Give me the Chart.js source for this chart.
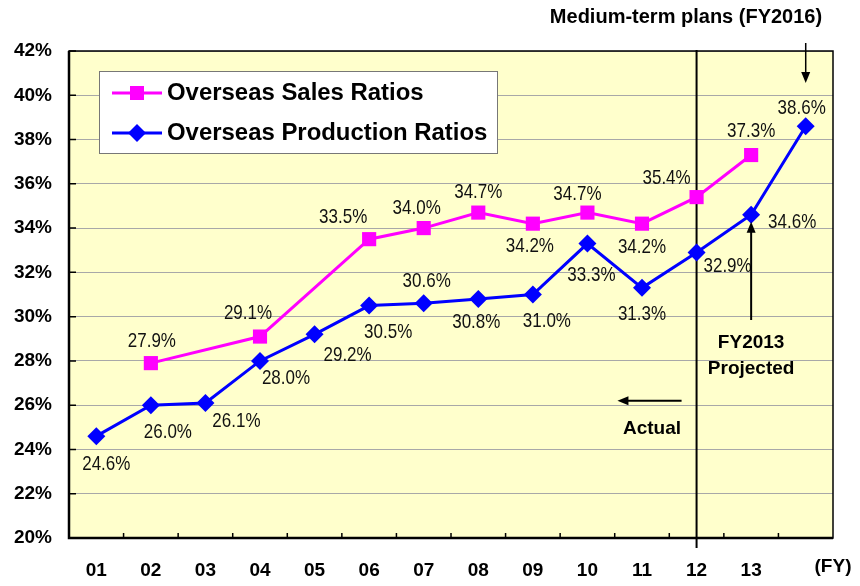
<!DOCTYPE html>
<html>
<head>
<meta charset="utf-8">
<script src="https://cdn.jsdelivr.net/npm/chart.js@4.4.1/dist/chart.umd.min.js"></script>
<style>
  html, body { margin: 0; padding: 0; background: #fff; }
  #wrap { width: 860px; height: 586px; }
</style>
</head>
<body>
<div id="wrap"><canvas id="ratioChart"></canvas></div>
<script>
"use strict";

// data (fiscal years, % of total)
const categories = ['01', '02', '03', '04', '05', '06', '07', '08', '09', '10', '11', '12', '13', ''];
const salesRatios = [null, 27.9, null, 29.1, null, 33.5, 34.0, 34.7, 34.2, 34.7, 34.2, 35.4, 37.3, null];
const productionRatios = [24.6, 26.0, 26.1, 28.0, 29.2, 30.5, 30.6, 30.8, 31.0, 33.3, 31.3, 32.9, 34.6, 38.6];
const yTicks = [20, 22, 24, 26, 28, 30, 32, 34, 36, 38, 40, 42];

// where each value label sits relative to its point (px)
const salesLabelOffsets = [null, [1, -22], null, [-12, -23], null, [-26, -22], [-7, -19], [0, -20], [-3, 23], [-10, -18], [0, 24], [-30, -18], [0, -23], null];
const productionLabelOffsets = [[10, 28], [17, 27], [31, 19], [26, 18], [33, 21], [19, 27], [3, -22], [-2, 24], [14, 27], [4, 32], [0, 27], [31, 14], [41, 8], [-4, -18]];

const FONT = '"Liberation Sans", Arial, sans-serif';
const SALES_COLOR = '#FF00FF';
const PROD_COLOR = '#0000FF';

const ctx = document.getElementById('ratioChart');

function drawArrow(c, x1, y1, x2, y2) {
    const ang = Math.atan2(y2 - y1, x2 - x1);
    const cos = Math.cos(ang), sin = Math.sin(ang);
    c.beginPath();
    c.moveTo(x1, y1);
    c.lineTo(x2 - 8 * cos, y2 - 8 * sin);
    c.stroke();
    c.beginPath();
    c.moveTo(x2, y2);
    c.lineTo(x2 - 11 * cos + 4.5 * sin, y2 - 11 * sin - 4.5 * cos);
    c.lineTo(x2 - 11 * cos - 4.5 * sin, y2 - 11 * sin + 4.5 * cos);
    c.closePath();
    c.fill();
}

function drawMarker(c, style, x, y, color) {
    c.fillStyle = color;
    c.beginPath();
    if (style === 'rect') {
        c.rect(x - 7, y - 7, 14, 14);
    } else {
        c.moveTo(x, y - 9);
        c.lineTo(x + 9, y);
        c.lineTo(x, y + 9);
        c.lineTo(x - 9, y);
        c.closePath();
    }
    c.fill();
}

const plotFrame = {
    id: 'plotFrame',
    beforeDraw(chart) {
        const { ctx: c, chartArea: a } = chart;
        c.save();
        c.fillStyle = '#FFFFCC';
        c.fillRect(a.left, a.top, a.right - a.left, a.bottom - a.top);
        c.restore();
    },
    beforeDatasetsDraw(chart) {
        const { ctx: c, chartArea: a, scales: { x, y } } = chart;
        c.save();
        c.strokeStyle = '#000';
        c.lineWidth = 1.5;
        c.strokeRect(a.left, a.top, a.right - a.left, a.bottom - a.top);
        c.lineWidth = 2.5;
        c.beginPath();
        c.moveTo(a.left, a.top);
        c.lineTo(a.left, a.bottom);
        c.lineTo(a.right, a.bottom);
        c.stroke();

        // small inner tick marks
        c.lineWidth = 1.5;
        c.beginPath();
        y.ticks.forEach(t => {
            const py = y.getPixelForValue(t.value);
            c.moveTo(a.left, py);
            c.lineTo(a.left + 7, py);
        });
        for (let i = 1; i < categories.length; i++) {
            const px = x.getPixelForValue(i - 0.5);
            c.moveTo(px, a.bottom);
            c.lineTo(px, a.bottom - 5);
        }
        c.stroke();

        // divider actual / plan at FY12
        const dx = x.getPixelForValue(11);
        c.lineWidth = 2;
        c.beginPath();
        c.moveTo(dx, a.top - 1);
        c.lineTo(dx, a.bottom + 10);
        c.stroke();
        c.restore();
    },
    afterDatasetsDraw(chart) {
        const { ctx: c, chartArea: a, scales: { x, y } } = chart;
        c.save();

        // value labels
        c.fillStyle = '#111';
        c.font = '17px ' + FONT;
        c.textAlign = 'center';
        c.textBaseline = 'middle';
        const putLabels = (values, offsets) => {
            values.forEach((v, i) => {
                if (v === null || !offsets[i]) return;
                const px = x.getPixelForValue(i) + offsets[i][0];
                const py = y.getPixelForValue(v) + offsets[i][1];
                c.save();
                c.translate(px, py);
                c.scale(1, 1.15);
                c.fillText(v.toFixed(1) + '%', 0, 0);
                c.restore();
            });
        };
        putLabels(salesRatios, salesLabelOffsets);
        putLabels(productionRatios, productionLabelOffsets);

        // legend box inside the plot
        const lx = a.left + 30, ly = a.top + 20;
        c.fillStyle = '#fff';
        c.fillRect(lx, ly, 398, 82);
        c.strokeStyle = '#777';
        c.lineWidth = 1;
        c.strokeRect(lx + 0.5, ly + 0.5, 398, 82);
        chart.data.datasets.forEach((ds, i) => {
            const ry = ly + 22 + i * 40;
            c.strokeStyle = ds.borderColor;
            c.lineWidth = 3;
            c.beginPath();
            c.moveTo(lx + 13, ry);
            c.lineTo(lx + 63, ry);
            c.stroke();
            drawMarker(c, ds.pointStyle, lx + 38, ry, ds.borderColor);
            c.fillStyle = '#000';
            c.font = 'bold 23px ' + FONT;
            c.textAlign = 'left';
            c.save();
            c.translate(lx + 68, ry + 1);
            c.scale(1.04, 1);
            c.fillText(ds.label, 0, 0);
            c.restore();
        });

        // annotations
        c.fillStyle = '#000';
        c.strokeStyle = '#000';
        c.lineWidth = 2;
        c.textAlign = 'center';

        const x16 = x.getPixelForValue(13);
        c.font = 'bold 20px ' + FONT;
        c.fillText('Medium-term plans (FY2016)', 686, 17);
        c.lineWidth = 1.5;
        drawArrow(c, x16, 43, x16, 83);

        c.font = 'bold 19px ' + FONT;
        const x13 = x.getPixelForValue(12);
        c.lineWidth = 2;
        drawArrow(c, x13, 320, x13, y.getPixelForValue(34.6) + 7);
        c.fillText('FY2013', x13, 343);
        c.fillText('Projected', x13, 369);

        const yAct = y.getPixelForValue(26.2);
        drawArrow(c, x.getPixelForValue(11) - 15, yAct, x.getPixelForValue(9.55), yAct);
        c.fillText('Actual', 652, 429);

        c.fillText('(FY)', 833, 567);
        c.restore();
    }
};

const config = {
    type: 'line',
    data: {
        labels: categories,
        datasets: [
            {
                label: 'Overseas Sales Ratios',
                data: salesRatios,
                borderColor: SALES_COLOR,
                backgroundColor: SALES_COLOR,
                borderWidth: 3,
                pointStyle: 'rect',
                pointRadius: 10,
                pointBorderWidth: 0,
                spanGaps: true,
                tension: 0
            },
            {
                label: 'Overseas Production Ratios',
                data: productionRatios,
                borderColor: PROD_COLOR,
                backgroundColor: PROD_COLOR,
                borderWidth: 3,
                pointStyle: 'rectRot',
                pointRadius: 9,
                pointBorderWidth: 0,
                tension: 0
            }
        ]
    },
    options: {
        responsive: true,
        maintainAspectRatio: false,
        animation: false,
        layout: { padding: { top: 51, right: 27, left: 0, bottom: 0 } },
        plugins: {
            legend: { display: false },
            tooltip: { enabled: false }
        },
        scales: {
            x: {
                offset: true,
                grid: { display: false, drawTicks: false },
                border: { display: false },
                ticks: {
                    color: '#000',
                    font: { family: FONT, size: 19, weight: 'bold' },
                    padding: 21,
                    maxRotation: 0,
                    autoSkip: false
                },
                afterFit(s) { s.height = 48; }
            },
            y: {
                min: 20,
                max: 42,
                grid: { color: '#A8A8A8', lineWidth: 1, drawTicks: false },
                border: { display: false },
                ticks: {
                    color: '#000',
                    font: { family: FONT, size: 19, weight: 'bold' },
                    padding: 17,
                    callback: (v) => v + '%'
                },
                afterBuildTicks(s) { s.ticks = yTicks.map(v => ({ value: v })); },
                afterFit(s) { s.width = 69; }
            }
        }
    },
    plugins: [plotFrame]
};

var ratioChart = new Chart(ctx, config);
</script>
</body>
</html>
